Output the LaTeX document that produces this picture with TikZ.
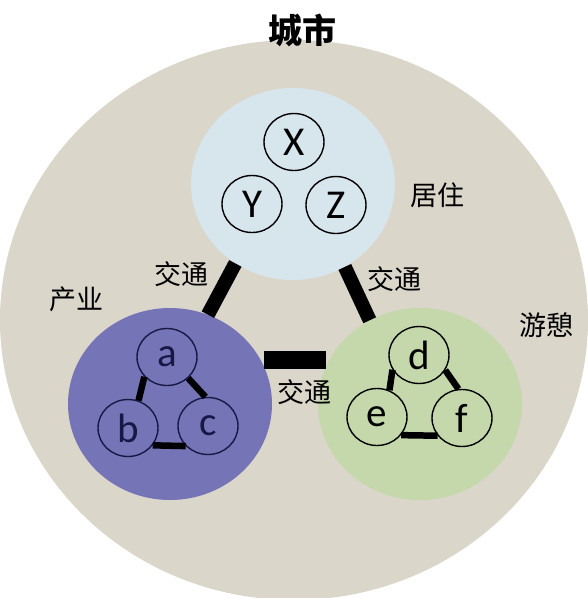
\documentclass[tikz,border=0pt]{standalone}
\usepackage{fontspec}
\setmainfont{Carlito}
\newfontfamily\cjk{Noto Sans CJK SC}
\usetikzlibrary{shapes.geometric}
\definecolor{cityc}{RGB}{218,214,202}
\definecolor{resc}{RGB}{215,229,237}
\definecolor{indc}{RGB}{117,116,182}
\definecolor{recc}{RGB}{196,216,171}
\definecolor{navy}{RGB}{24,24,70}
\tikzset{
  zone/.style={ellipse, draw=none, inner sep=0pt, minimum width=204pt, minimum height=192pt},
  unit/.style={ellipse, draw, line width=1.4pt, inner sep=0pt, minimum width=60pt, minimum height=57pt,
     font=\fontsize{41}{43}\selectfont},
  bar/.style={line width=14pt, black},
  minibar/.style={line width=6.5pt, black},
  lbl/.style={font=\cjk\fontsize{27}{30}\selectfont, inner sep=0pt},
}
\begin{document}
\begin{tikzpicture}[x=1pt,y=-1pt]
\useasboundingbox (0,0) rectangle (588,598);
\begin{scope}
\clip (0,0) rectangle (588,598);
\node[ellipse, fill=cityc, inner sep=0pt, minimum width=588pt, minimum height=560pt] (city) at (294,320) {};
\end{scope}
\node[font=\cjk\bfseries\fontsize{34}{36}\selectfont, inner sep=0pt] (title) at (302,30) {城市};

\node[zone, fill=resc] (res) at (293,184) {};
\node[zone, fill=indc] (ind) at (170,404) {};
\node[zone, fill=recc] (rec) at (420,404) {};

\node[lbl] (lres) at (437,195) {居住};
\node[lbl] (lind) at (76,299) {产业};
\node[lbl] (lrec) at (546,325) {游憩};
\node[lbl] (t1) at (181,274) {交通};
\node[lbl] (t2) at (394,279) {交通};
\node[lbl] (t3) at (304,392) {交通};

\draw[bar] (ind.67) -- (res.234.5);
\draw[bar] (rec.121.4) -- (res.302.7);
\draw[line width=18pt, black, shorten <=3.5pt, shorten >=3.5pt] (ind.26) -- (rec.154);

\node[unit] (X) at (294,142) {X};
\node[unit] (Y) at (252,204) {Y};
\node[unit] (Z) at (336,205) {Z};

\node[unit, draw=navy, text=navy] (a) at (167,357) {a};
\node[unit, draw=navy, text=navy] (b) at (128,428) {b};
\node[unit, draw=navy, text=navy] (c) at (208,426) {c};
\draw[minibar] (a.221) -- (b.69);
\draw[minibar] (a.315) -- (c.95);
\draw[minibar] (b.325) -- (c.222);

\node[unit] (d) at (419,355) {d};
\node[unit] (e) at (377,417) {e};
\node[unit] (f) at (462,418) {f};
\draw[minibar] (d.209) -- (e.65);
\draw[minibar] (d.330) -- (f.97);
\draw[minibar] (e.323) -- (f.216);
\end{tikzpicture}
\end{document}
